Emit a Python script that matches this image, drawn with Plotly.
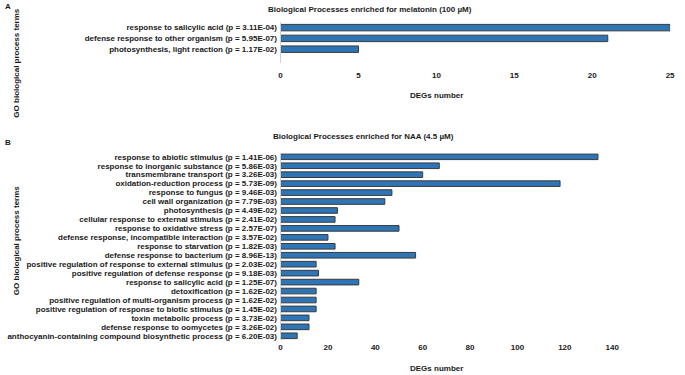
import plotly.graph_objects as go

W, H = 685, 375

top_terms = [
    "response to salicylic acid (p = 3.11E-04)",
    "defense response to other organism (p = 5.95E-07)",
    "photosynthesis, light reaction (p = 1.17E-02)",
]
top_values = [25, 21, 5]

bottom_terms = [
    "response to abiotic stimulus (p = 1.41E-06)",
    "response to inorganic substance (p = 5.86E-03)",
    "transmembrane transport (p = 3.26E-03)",
    "oxidation-reduction process (p = 5.73E-09)",
    "response to fungus (p = 9.46E-03)",
    "cell wall organization (p = 7.79E-03)",
    "photosynthesis (p = 4.49E-02)",
    "cellular response to external stimulus (p = 2.41E-02)",
    "response to oxidative stress (p = 2.57E-07)",
    "defense response, incompatible interaction (p = 3.57E-02)",
    "response to starvation (p = 1.82E-03)",
    "defense response to bacterium (p = 8.96E-13)",
    "positive regulation of response to external stimulus (p = 2.03E-02)",
    "positive regulation of defense response (p = 9.18E-03)",
    "response to salicylic acid (p = 1.25E-07)",
    "detoxification (p = 1.62E-02)",
    "positive regulation of multi-organism process (p = 1.62E-02)",
    "positive regulation of response to biotic stimulus (p = 1.45E-02)",
    "toxin metabolic process (p = 3.73E-02)",
    "defense response to oomycetes (p = 3.26E-02)",
    "anthocyanin-containing compound biosynthetic process (p = 6.20E-03)",
]
bottom_values = [134, 67, 60, 118, 47, 44, 24, 23, 50, 20, 23, 57, 15, 16, 33, 15, 15, 15, 12, 12, 7]

top_ticks = [0, 5, 10, 15, 20, 25]
bottom_ticks = [0, 20, 40, 60, 80, 100, 120, 140]

top_title = "Biological Processes enriched for melatonin (100 µM)"
bottom_title = "Biological Processes enriched for NAA (4.5 µM)"
x_title = "DEGs number"
y_title = "GO biological process terms"

FONT = "Liberation Sans"
FS = 8.0
BAR = "#2E75B6"
EDGE = "#3a3a3a"
TXT = "#1a1a1a"


def px(x):
    return x / W


def py(y):
    return 1 - y / H


fig = go.Figure()
fig.add_trace(go.Bar(
    x=top_values, y=top_terms, orientation="h",
    marker=dict(color=BAR, line=dict(color=EDGE, width=1)),
    width=0.6, xaxis="x", yaxis="y",
))
fig.add_trace(go.Bar(
    x=bottom_values, y=bottom_terms, orientation="h",
    marker=dict(color=BAR, line=dict(color=EDGE, width=1)),
    width=0.63, xaxis="x2", yaxis="y2",
))

tickfont = dict(family=FONT, size=FS, color=TXT, weight="bold")

fig.update_layout(
    width=W, height=H,
    margin=dict(l=0, r=0, t=0, b=0),
    paper_bgcolor="white", plot_bgcolor="white",
    showlegend=False,
    font=dict(family=FONT, size=FS, color=TXT),
    xaxis=dict(
        domain=[px(282.3), px(677)], anchor="y",
        range=[0, 25], tickvals=top_ticks, showgrid=False, zeroline=False,
        showline=False, ticks="", tickfont=tickfont, ticklabelstandoff=6,
        ticklabeloverflow="allow",
    ),
    yaxis=dict(
        domain=[py(62), py(21.3)], anchor="x",
        type="category", categoryorder="array", categoryarray=top_terms,
        tickmode="array", tickvals=top_terms,
        range=[3.27, -0.5], showgrid=False, zeroline=False,
        showline=True, linecolor="#d0d0d0", linewidth=1, ticks="",
        tickfont=tickfont, ticklabelstandoff=1,
    ),
    xaxis2=dict(
        domain=[px(282.3), px(618.3)], anchor="y2",
        range=[0, 140], tickvals=bottom_ticks, showgrid=False, zeroline=False,
        showline=False, ticks="", tickfont=tickfont, ticklabelstandoff=1,
        ticklabeloverflow="allow",
    ),
    yaxis2=dict(
        domain=[py(340), py(152.7)], anchor="x2",
        type="category", categoryorder="array", categoryarray=bottom_terms,
        tickmode="array", tickvals=bottom_terms,
        range=[20.48, -0.39], showgrid=False, zeroline=False,
        showline=True, linecolor="#d0d0d0", linewidth=1, ticks="",
        tickfont=tickfont, ticklabelstandoff=1,
    ),
)

bold = dict(family=FONT, size=FS, color=TXT, weight="bold")
ann = [
    dict(text="A", x=px(6), y=py(6)),
    dict(text="B", x=px(6), y=py(142)),
    dict(text=top_title, x=px(373), y=py(9)),
    dict(text=bottom_title, x=px(366), y=py(136)),
    dict(text=x_title, x=px(440), y=py(95)),
    dict(text=x_title, x=px(440), y=py(368)),
    dict(text=y_title, x=px(15), y=py(62), textangle=-90),
    dict(text=y_title, x=px(15), y=py(240), textangle=-90),
]
for a in ann:
    fig.add_annotation(
        xref="paper", yref="paper", showarrow=False,
        xanchor="center", yanchor="middle", font=bold, **a,
    )

fig.write_html(
    "out.html",
    config={"displayModeBar": False},
    post_script="document.body.style.margin='0';document.body.style.padding='0';document.body.style.overflow='hidden';",
)
